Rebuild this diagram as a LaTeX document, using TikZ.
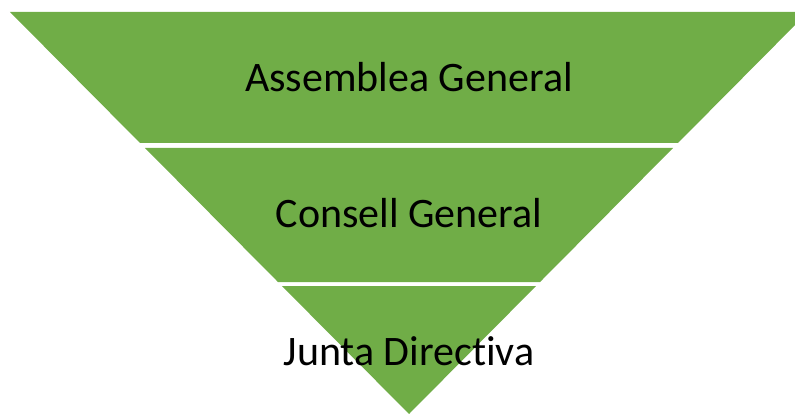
\documentclass[tikz,border=0pt]{standalone}
\usepackage{fontspec}
\setmainfont{Carlito}[Ligatures=NoCommon]
\definecolor{bandgreen}{HTML}{70AD47}
\begin{document}
\begin{tikzpicture}
[x=1pt,y=-1pt,
  banddecorate/.style={fill=bandgreen,draw=none},%
  labeldecorate/.style={font=\fontsize{42}{50}\selectfont,anchor=base,inner sep=0pt}]
\useasboundingbox (0,0) rectangle (795,414);
%% bands of the pyramid
\foreach \bandname/\ytop/\ybot in {asm/12/143, con/148/282, jun/286/414} {
  \pgfmathsetmacro{\htop}{(414-\ytop)*0.99254}
  \pgfmathsetmacro{\hbot}{(414-\ybot)*0.99254}
  \path[banddecorate] (409-\htop,\ytop) -- (409+\htop,\ytop)
    -- (409+\hbot,\ybot) -- (409-\hbot,\ybot) -- cycle;
}
%% labels
\foreach \nodename/\y/\labeltext in {asmlabel/92/Assemblea General,
  conlabel/227/Consell General, junlabel/365/Junta Directiva} {
  \node (\nodename) at (409,\y) [labeldecorate] {\labeltext};
}
\end{tikzpicture}
\end{document}
